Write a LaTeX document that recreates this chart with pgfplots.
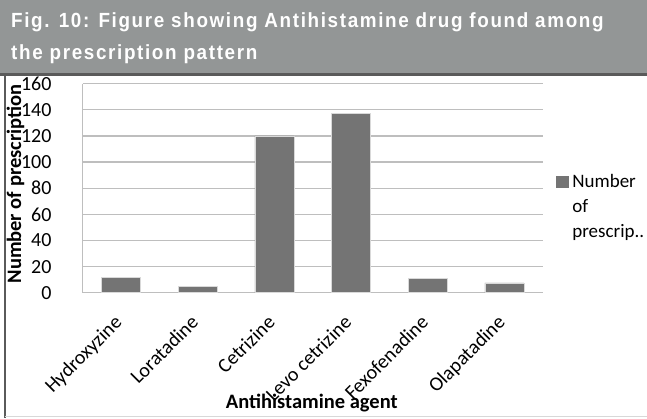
\documentclass[border=0pt]{standalone}
\usepackage{pgfplots}
\pgfplotsset{compat=1.18}
\usepackage{fontspec}
\setmainfont{Carlito}
\newfontfamily\titlefont[FakeStretch=0.92,LetterSpace=8]{Liberation Sans}
\definecolor{banner}{HTML}{939696}
\definecolor{bannerline}{HTML}{5A5A5A}
\definecolor{barfill}{HTML}{747474}
\definecolor{gridc}{HTML}{BEBEBE}
\begin{document}
\begin{tikzpicture}[x=1pt,y=1pt]
\useasboundingbox (0,0) rectangle (647,-418);
\fill[white] (0,0) rectangle (647,-418);
% title banner
\fill[banner] (0,0) rectangle (647,-73);
\fill[bannerline] (0,-73) rectangle (647,-75.5);
\draw[bannerline, line width=1.2pt] (5,-75) -- (5,-418);
\draw[gridc!60, line width=0.6pt] (5,-416.5) -- (647,-416.5);
\node[anchor=north west, align=left, text=white, font=\titlefont\bfseries\fontsize{20.5}{32}\selectfont, inner sep=0pt]
  at (11,-12) {Fig. 10: Figure showing Antihistamine drug found among\\the prescription pattern};
\begin{axis}[
  at={(82.7pt,-292.7pt)}, anchor=south west,
  scale only axis, width=460pt, height=209pt,
  ybar, bar width=39pt,
  xmin=-0.5, xmax=5.5, ymin=0, ymax=160,
  ytick={0,20,...,160},
  xtick={0,...,5},
  xticklabels={Hydroxyzine,Loratadine,Cetrizine,Levo cetrizine,Fexofenadine,Olapatadine},
  x tick label style={xshift=-8pt, yshift=-21pt, rotate=45, anchor=north east, font=\fontsize{20}{20}\selectfont, inner sep=0pt},
  y tick label style={font=\fontsize{20}{20}\selectfont, anchor=east, inner sep=0pt, xshift=-31pt},
  /pgf/number format/assume math mode=true,
  ymajorgrids, grid style={gridc, line width=1.2pt},
  axis x line*=bottom, axis y line*=left,
  x axis line style={gridc, line width=1.2pt, -},
  y axis line style={gridc, line width=1.2pt, -},
  major tick length=0pt,
  ytick style={draw=none}, xtick style={draw=none},
  extra y ticks={0,20,...,160}, extra y tick labels={},
  extra y tick style={major tick length=6.7pt, tick style={draw=gridc, line width=1.2pt}, grid=none, tick align=outside},
  xlabel={\textbf{Antihistamine agent}},
  ylabel={\textbf{Number of prescription}},
  xlabel style={font=\fontsize{20.5}{21}\selectfont, at={(axis description cs:0.498,0)}, anchor=base, yshift=-116pt},
  ylabel style={font=\fontsize{20.5}{21}\selectfont, at={(axis description cs:0,0.52)}, anchor=base, yshift=61.5pt},
  clip=false,
  legend style={at={(1.029,0.587)}, anchor=north west, draw=none, fill=none,
    font=\fontsize{19}{25}\selectfont, legend cell align=left, inner sep=0pt,
    nodes={inner sep=0pt}, /tikz/every even column/.append style={column sep=0pt}},
  legend image code/.code={\fill[barfill] (0pt,-7.5pt) rectangle (11.5pt,3pt);\path (15.5pt,0pt);},
]
\addplot[fill=barfill, draw=white!85!black, line width=0.6pt]
  coordinates {(0,12) (1,5) (2,120) (3,137) (4,11) (5,7.5)};
\legend{\begin{tabular}[t]{@{}l@{}}Number\\of\\prescrip..\end{tabular}}
\end{axis}
\end{tikzpicture}
\end{document}
